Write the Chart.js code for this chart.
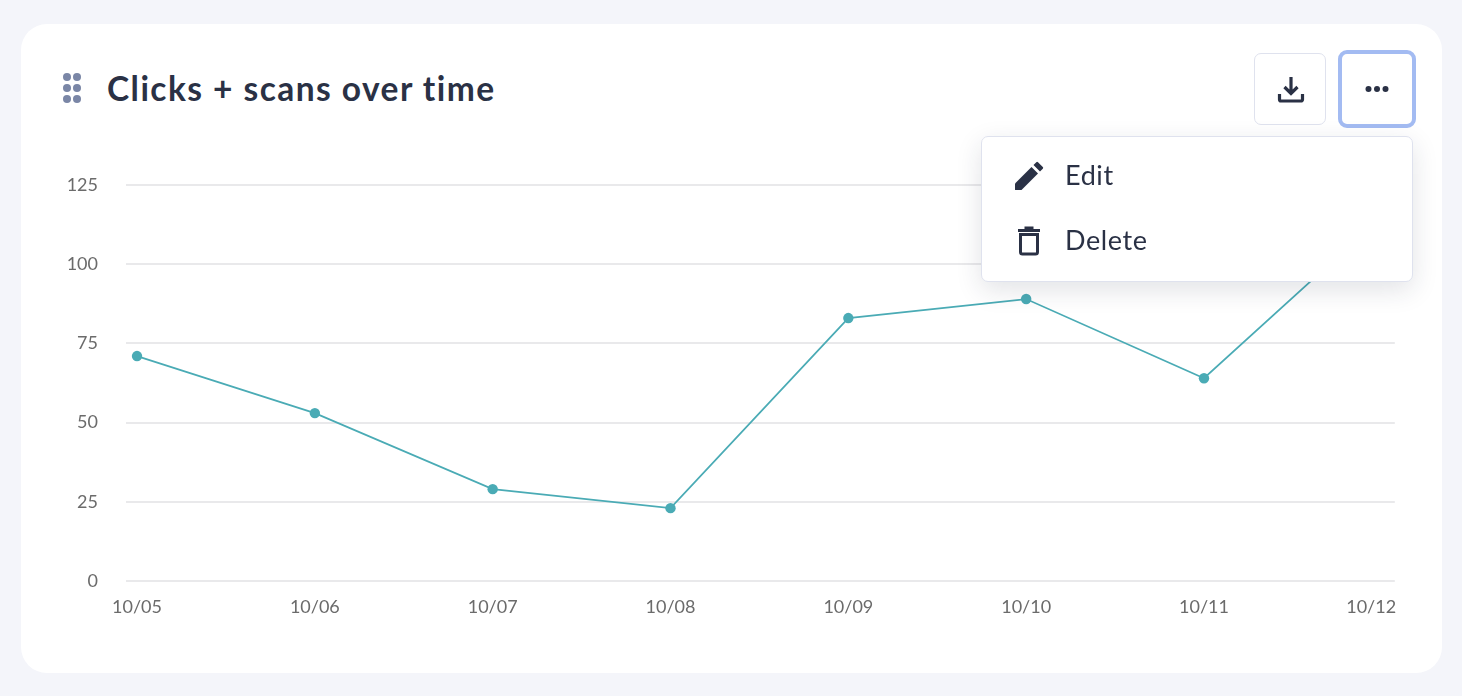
<!DOCTYPE html>
<html><head><meta charset="utf-8">
<script src="https://cdn.jsdelivr.net/npm/chart.js@4/dist/chart.umd.min.js"></script>
<style>
html,body{margin:0;padding:0;width:1462px;height:696px;overflow:hidden;background:#f4f5fa;font-family:Lato,sans-serif;color:#2a3145}
#card{position:absolute;left:21px;top:24px;width:1421px;height:649px;background:#fff;border-radius:26px}
#wrap{position:absolute;left:40px;top:170px;width:1360px;height:455px}
#title{position:absolute;left:107px;top:67px;font-size:33.5px;line-height:42px;font-weight:700;letter-spacing:1.45px;font-variant-ligatures:none;white-space:nowrap;color:#2a3145}
.btn{position:absolute;box-sizing:border-box;background:#fff;border-radius:7px}
#dl{left:1254px;top:53px;width:72px;height:72px;border:1px solid #dfe2ee}
#more{left:1338px;top:50px;width:78px;height:78px;border:4px solid #a3bbf2;border-radius:9px}
#menu{position:absolute;left:981px;top:136px;width:432px;height:146px;box-sizing:border-box;background:#fff;border:1px solid #dfe2ee;border-radius:7px;box-shadow:0 8px 26px rgba(30,35,60,.13)}
.item{position:absolute;left:83px;font-size:27px;line-height:34px;letter-spacing:.6px;color:#2a3145;white-space:nowrap}
svg{position:absolute;display:block}
</style></head><body>
<div id="card"></div>
<div id="wrap"><canvas id="c"></canvas></div>
<svg style="left:60px;top:72px" width="24" height="34" viewBox="0 0 24 34" fill="#7a86a6">
<circle cx="7" cy="5" r="4"/><circle cx="17" cy="5" r="4"/><circle cx="7" cy="16" r="4"/><circle cx="17" cy="16" r="4"/><circle cx="7" cy="27" r="4"/><circle cx="17" cy="27" r="4"/></svg>
<div id="title">Clicks + scans over time</div>
<div class="btn" id="dl"></div>
<svg style="left:1276px;top:74px" width="30" height="30" viewBox="0 0 30 30" fill="none" stroke="#2a3145" stroke-width="3.2">
<path d="M15 3V19M8.5 13L15 19.5L21.5 13"/><path d="M3.5 20V25.5A1.5 1.5 0 0 0 5 27H25A1.5 1.5 0 0 0 26.500 25.500V20"/></svg>
<div class="btn" id="more"></div>
<svg style="left:1364px;top:82px" width="26" height="14" viewBox="0 0 26 14" fill="#2a3145"><circle cx="4.500" cy="7" r="3"/><circle cx="13" cy="7" r="3"/><circle cx="21.500" cy="7" r="3"/></svg>
<div id="menu">
<div class="item" style="top:21px">Edit</div>
<div class="item" style="top:86px">Delete</div>
</div>
<svg style="left:1014px;top:161px" width="30" height="30" viewBox="0 0 30 30" fill="#2a3145"><path d="M1 22.500L17.500 6L24 12.500L7.500 29H1.500A.5.5 0 0 1 1 28.500Z"/><path d="M19.500 4L22.300 1.200A1.200 1.200 0 0 1 24 1.200L28.800 6A1.200 1.200 0 0 1 28.800 7.700L26 10.500Z"/></svg>
<svg style="left:1016px;top:226px" width="28" height="30" viewBox="0 0 28 30" fill="none" stroke="#2a3145" stroke-width="3"><path d="M2 4.500H24M8.500 2H17.500" /><path d="M4.500 8.500H21.500V26A2 2 0 0 1 19.500 28H6.500A2 2 0 0 1 4.500 26Z"/></svg>
<script>
const categories = ["10/05","10/06","10/07","10/08","10/09","10/10","10/11","10/12"];
const clicksScans = [71,53,29,23,83,89,64,115];
const yTicks = [0,25,50,75,100,125];
const xTickSlots = [0,1,2,3,4,5,6,6.94];

new Chart(document.getElementById('c'),{
  type:'line',
  data:{datasets:[{
    data:clicksScans.map((y,x)=>({x,y})),
    borderColor:'#4aabb5',backgroundColor:'#4aabb5',borderWidth:1.75,
    pointRadius:5.2,pointHoverRadius:5.2,pointBorderWidth:0,tension:0,clip:false
  }]},
  options:{
    responsive:true,maintainAspectRatio:false,animation:false,
    layout:{padding:{top:15,left:0,right:0,bottom:0}},
    plugins:{legend:{display:false},tooltip:{enabled:false},title:{display:false}},
    scales:{
      x:{type:'linear',min:-0.062,max:7.073,
        afterBuildTicks:s=>{s.ticks=xTickSlots.map(value=>({value}));},
        afterFit:s=>{s.height=44;s.paddingLeft=0;s.paddingRight=0;},
        grid:{display:false},border:{display:false},
        ticks:{autoSkip:false,maxRotation:0,padding:7,color:'#6b6b6b',
          font:{family:'Lato',size:18},
          callback:(v,i)=>categories[i]}},
      y:{min:0,max:125,
        afterBuildTicks:s=>{s.ticks=yTicks.map(value=>({value}));},
        afterFit:s=>{s.width=86;s.paddingTop=0;s.paddingBottom=0;},
        grid:{color:'#e9e9eb',lineWidth:2,drawTicks:false},border:{display:false},
        ticks:{padding:28,color:'#6b6b6b',font:{family:'Lato',size:18}}}
    }
  }
});
</script>
</body></html>
